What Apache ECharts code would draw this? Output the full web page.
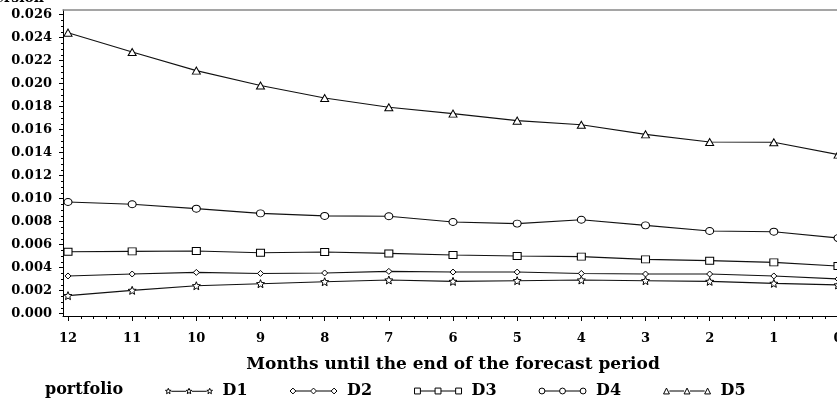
<!DOCTYPE html>
<html>
<head>
<meta charset="utf-8">
<script src="https://cdn.jsdelivr.net/npm/echarts@6/dist/echarts.min.js"></script>
<style>
  html, body { margin: 0; padding: 0; background: #fff; }
  #chart { width: 837px; height: 400px; }
</style>
</head>
<body>
<div id="chart"></div>
<script>
// months until the end of the forecast period
var months = [12, 11, 10, 9, 8, 7, 6, 5, 4, 3, 2, 1, 0];
var d1 = [0.00157, 0.00203, 0.00243, 0.00261, 0.00278, 0.00293, 0.00281, 0.00287, 0.00293, 0.00287, 0.00281, 0.00264, 0.00250];
var d2 = [0.00328, 0.00345, 0.00359, 0.00350, 0.00354, 0.00368, 0.00362, 0.00362, 0.00350, 0.00345, 0.00345, 0.00328, 0.00302];
var d3 = [0.00539, 0.00542, 0.00545, 0.00530, 0.00536, 0.00524, 0.00510, 0.00501, 0.00496, 0.00472, 0.00461, 0.00446, 0.00414];
var d4 = [0.00971, 0.00951, 0.00913, 0.00872, 0.00850, 0.00847, 0.00797, 0.00783, 0.00817, 0.00768, 0.00719, 0.00713, 0.00658];
var d5 = [0.02443, 0.02275, 0.02113, 0.01983, 0.01875, 0.01794, 0.01739, 0.01678, 0.01643, 0.01559, 0.01493, 0.01490, 0.01383];
var seriesNames = ['D1', 'D2', 'D3', 'D4', 'D5'];
var seriesData = [d1, d2, d3, d4, d5];

var FONT = 'DejaVu Serif';

// marker shapes as path pieces, centered on (cx, cy)
function star(cx, cy, r) {
  var s = '';
  for (var i = 0; i < 10; i++) {
    var rr = i % 2 ? r * 0.45 : r;
    var a = -Math.PI / 2 + i * Math.PI / 5;
    s += (i ? 'L' : 'M') + (cx + rr * Math.cos(a)).toFixed(2) + ' ' + (cy + rr * Math.sin(a)).toFixed(2);
  }
  return s + 'Z';
}
function diamond(cx, cy, r) {
  return 'M' + cx + ' ' + (cy - r) + 'L' + (cx + r) + ' ' + cy + 'L' + cx + ' ' + (cy + r) + 'L' + (cx - r) + ' ' + cy + 'Z';
}
function square(cx, cy, r) {
  return 'M' + (cx - r) + ' ' + (cy - r) + 'L' + (cx + r) + ' ' + (cy - r) + 'L' + (cx + r) + ' ' + (cy + r) + 'L' + (cx - r) + ' ' + (cy + r) + 'Z';
}
function circle(cx, cy, r) {
  return 'M' + (cx - r) + ' ' + cy + 'A' + r + ' ' + r + ' 0 1 0 ' + (cx + r) + ' ' + cy + 'A' + r + ' ' + r + ' 0 1 0 ' + (cx - r) + ' ' + cy + 'Z';
}
function triangle(cx, cy, r) {
  return 'M' + (cx - r) + ' ' + (cy + r) + 'L' + cx + ' ' + (cy - r) + 'L' + (cx + r) + ' ' + (cy + r) + 'Z';
}
var shapes = [star, diamond, square, circle, triangle];
var sizes = [8, 6, [8, 7], [8, 7], [8, 7]];

// legend sample: line with three markers
function legendIcon(fn) {
  return 'path://' + fn(3, 3, 3) + 'M6 3L21 3' + fn(24, 3, 3) + 'M27 3L42 3' + fn(45, 3, 3);
}

var chart = echarts.init(document.getElementById('chart'));

var series = seriesNames.map(function (name, k) {
  return {
    name: name,
    type: 'line',
    xAxisIndex: 0,
    yAxisIndex: 0,
    data: months.map(function (m, i) { return [m, seriesData[k][i]]; }),
    symbol: 'path://' + shapes[k](0, 0, 5),
    symbolSize: sizes[k],
    showAllSymbol: true,
    lineStyle: { color: '#111', width: 1.1 },
    itemStyle: { color: '#fff', borderColor: '#000', borderWidth: 1 },
    emphasis: { disabled: true },
    animation: false
  };
});

var txt = { fontFamily: FONT, fontWeight: 'bold', fontSize: 16, color: '#000' };
var tickTxt = { fontFamily: FONT, fontWeight: 'bold', fontSize: 13, color: '#000' };

chart.setOption({
  backgroundColor: '#fff',
  animation: false,
  title: {
    text: 'portfolio',
    left: 45,
    top: 382,
    padding: 0,
    textStyle: txt
  },
  legend: {
    data: seriesNames.map(function (n, k) { return { name: n, icon: legendIcon(shapes[k]) }; }),
    left: 165,
    top: 383,
    padding: 0,
    itemWidth: 47,
    itemHeight: 6,
    itemGap: 42,
    itemStyle: { color: '#fff', borderColor: '#000', borderWidth: 1 },
    textStyle: Object.assign({}, txt, { padding: [0, 0, 0, 5] })
  },
  grid: [
    { left: 68, top: 14.6, width: 770, height: 299.1, outerBoundsMode: 'none', containLabel: false },
    { left: 63, top: 10, width: 820, height: 306, outerBoundsMode: 'none', containLabel: false }
  ],
  xAxis: [
    {
      gridIndex: 0,
      type: 'value',
      inverse: true,
      min: 0,
      max: 12,
      interval: 1,
      offset: 2.3,
      position: 'bottom',
      axisLine: { show: false, onZero: false },
      axisTick: { show: true, length: 5, lineStyle: { color: '#000' } },
      minorTick: { show: true, splitNumber: 5, length: 3, lineStyle: { color: '#000' } },
      splitLine: { show: false },
      axisLabel: Object.assign({
        margin: 16,
        formatter: function (v) { return String(Math.round(v)); }
      }, tickTxt),
      name: 'Months until the end of the forecast period',
      nameLocation: 'middle',
      nameGap: 40,
      nameTextStyle: Object.assign({}, txt, { fontSize: 17 })
    },
    {
      gridIndex: 1, type: 'value', min: 0, max: 1, position: 'bottom',
      axisLine: { onZero: false, lineStyle: { color: '#000', width: 1 } },
      axisTick: { show: false }, axisLabel: { show: false }, splitLine: { show: false }
    },
    {
      gridIndex: 1, type: 'value', min: 0, max: 1, position: 'top',
      axisLine: { onZero: false, lineStyle: { color: '#888', width: 1.5 } },
      axisTick: { show: false }, axisLabel: { show: false }, splitLine: { show: false }
    }
  ],
  yAxis: [
    {
      gridIndex: 0,
      type: 'value',
      position: 'left',
      min: 0,
      max: 0.026,
      interval: 0.002,
      offset: 5,
      axisLine: { show: false, onZero: false },
      axisTick: { show: true, length: 4, lineStyle: { color: '#000' } },
      minorTick: { show: true, splitNumber: 4, length: 2, lineStyle: { color: '#000' } },
      splitLine: { show: false },
      axisLabel: Object.assign({
        margin: 11,
        formatter: function (v) { return v.toFixed(3); }
      }, tickTxt),
      name: 'Dispersion',
      nameLocation: 'end',
      nameGap: 16,
      nameTextStyle: Object.assign({}, txt, { fontSize: 14, align: 'right', verticalAlign: 'middle', padding: [0, 19, 0, 0] })
    },
    {
      gridIndex: 1, type: 'value', min: 0, max: 1, position: 'left',
      axisLine: { show: true, onZero: false, lineStyle: { color: '#000', width: 1 } },
      axisTick: { show: false }, axisLabel: { show: false }, splitLine: { show: false }
    }
  ],
  series: series
});
</script>
</body>
</html>
